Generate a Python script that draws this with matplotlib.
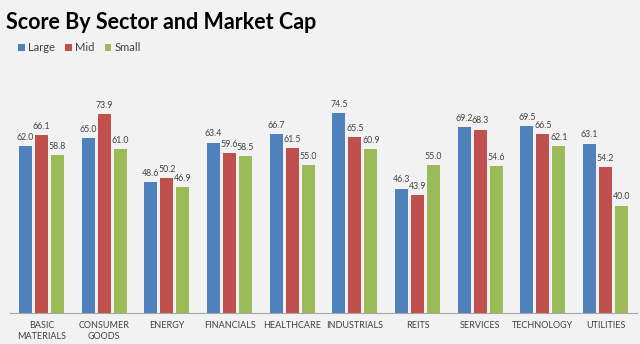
import matplotlib.pyplot as plt
import numpy as np

sectors = ["BASIC\nMATERIALS", "CONSUMER\nGOODS", "ENERGY", "FINANCIALS", "HEALTHCARE",
           "INDUSTRIALS", "REITS", "SERVICES", "TECHNOLOGY", "UTILITIES"]
large = [62.0, 65.0, 48.6, 63.4, 66.7, 74.5, 46.3, 69.2, 69.5, 63.1]
mid = [66.1, 73.9, 50.2, 59.6, 61.5, 65.5, 43.9, 68.3, 66.5, 54.2]
small = [58.8, 61.0, 46.9, 58.5, 55.0, 60.9, 55.0, 54.6, 62.1, 40.0]
series_names = ["Large", "Mid", "Small"]
colors = ["#4F81BD", "#C0504D", "#9BBB59"]

plt.rcParams['font.family'] = ['Lato', 'DejaVu Sans']

fig = plt.figure(figsize=(6.4, 3.44), dpi=100)
fig.patch.set_facecolor("#F2F2F2")
ax = fig.add_axes([0.016, 0.090, 0.979, 0.781])
ax.set_facecolor("#F2F2F2")

x = np.arange(len(sectors))
step = 0.255
for k, (vals, name, col) in enumerate(zip([large, mid, small], series_names, colors)):
    pos = x + (k - 1) * step
    ax.bar(pos, vals, width=0.21, color=col, label=name)
    for p, v in zip(pos, vals):
        ax.text(p, v + 1.6, f"{v:.1f}", ha="center", va="bottom", fontsize=6.3, color="#404040")

ax.set_xlim(-0.5, len(sectors) - 0.5)
ax.set_ylim(0, 100)
ax.set_yticks([])
ax.set_xticks(x)
ax.set_xticklabels(sectors, fontsize=6.5, color="#404040", linespacing=1.3)
ax.tick_params(axis="x", length=0, pad=6)
for s in ["top", "right", "left"]:
    ax.spines[s].set_visible(False)
ax.spines["bottom"].set_color("#A6A6A6")

fig.text(0.010, 0.935, "Score By Sector and Market Cap", fontsize=15.5, fontweight="bold",
         ha="left", va="center", color="black")
ax.legend(loc="upper left", bbox_to_anchor=(-0.003, 1.045), ncol=3, frameon=False,
          fontsize=8, handlelength=0.6, handleheight=0.6, handletextpad=0.3,
          columnspacing=0.9, labelcolor="#404040")

fig.savefig("out.png", dpi=100, facecolor=fig.get_facecolor())
